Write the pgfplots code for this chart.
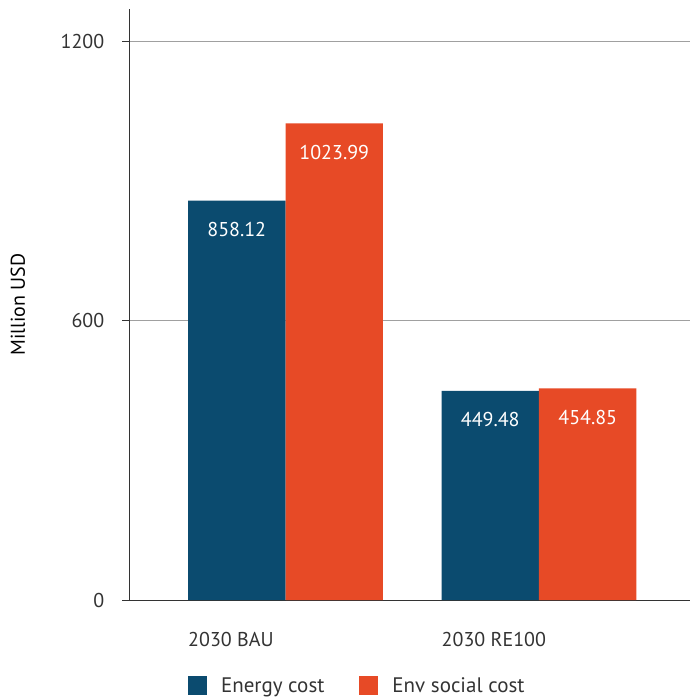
\documentclass[border=0pt]{standalone}
\usepackage{fontspec}
\setmainfont{PT Sans}
\usepackage{pgfplots}
\pgfplotsset{compat=1.18}

\definecolor{energyblue}{HTML}{0B4B6F}
\definecolor{envorange}{HTML}{E74A26}
\definecolor{axisgray}{HTML}{333333}
\definecolor{gridgray}{HTML}{A0A0A0}
\newcommand\chartfont{\fontsize{20pt}{24pt}\selectfont}

% Cost comparison, million USD
\pgfplotstableread{
x  energy  env
0  858.12  1023.99
1  449.48  454.85
}\costdata

\begin{document}
\begin{tikzpicture}
\begin{axis}[
  scale only axis, width=560.5pt, height=591pt,
  xmin=-0.6154, xmax=1.5957, ymin=0, ymax=1270,
  ybar=0pt, bar width=0.3846,
  axis x line=bottom, axis y line=left,
  axis line style={-, axisgray, line width=1pt},
  xtick={-0.3846,0.6154}, xticklabels={2030 BAU, 2030 RE100},
  x tick style={draw=none},
  xticklabel style={anchor=base west, inner sep=0pt, yshift=-40pt, font=\chartfont, text=axisgray},
  ytick={0,600,1200},
  y tick style={axisgray, line width=1pt},
  tick align=outside, major tick length=7pt,
  yticklabel style={anchor=east, inner sep=0pt, xshift=-18pt, font=\chartfont, text=axisgray,
    /pgf/number format/1000 sep={}},
  /pgf/number format/assume math mode=true,
  ymajorgrids, major grid style={gridgray, line width=0.8pt},
  ylabel={Million USD},
  every axis y label/.style={at={([xshift=-111.5pt]axis description cs:0,0.5)}, rotate=90, anchor=center, font=\chartfont, text=black},
  nodes near coords={\pgfmathprintnumber[fixed,fixed zerofill,precision=2,1000 sep={}]{\pgfplotspointmeta}},
  every node near coord/.append style={anchor=center, yshift=-29pt, text=white, font=\chartfont},
  legend columns=2,
  legend style={draw=none, fill=none, inner sep=0pt, outer sep=0pt,
    font=\fontsize{21pt}{25pt}\selectfont, text=axisgray,
    at={(0.1044,-0.1455)}, anchor=west,
    /tikz/every odd column/.append style={column sep=12pt},
    /tikz/every even column/.append style={column sep=33pt}},
  legend image code/.code={\fill[#1] (0pt,-9.5pt) rectangle (19pt,9.5pt);},
  clip=false,
]
\addplot[fill=energyblue, draw=none] table[x=x, y=energy] {\costdata};
\addplot[fill=envorange, draw=none] table[x=x, y=env] {\costdata};
\legend{Energy cost, Env social cost}
\end{axis}
\pgfresetboundingbox
\path[use as bounding box] (-129.5pt,-100pt) rectangle (560.5pt,600pt);
\end{tikzpicture}
\end{document}
